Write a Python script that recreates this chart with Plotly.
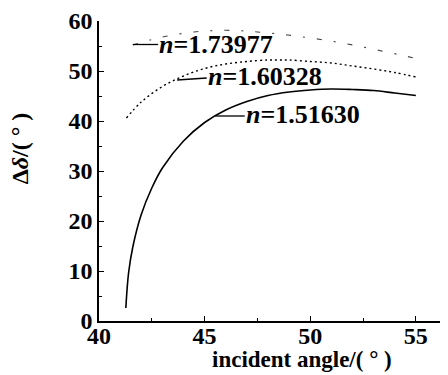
import plotly.graph_objects as go

# Data
x_1516 = [41.27, 41.4, 41.6, 42.0, 42.5, 43.0, 44.0, 45.0, 46.0, 47.0, 48.0, 49.0, 50.0, 51.0, 52.0, 53.0, 54.0, 55.0]
y_1516 = [2.6, 9.6, 14.8, 21.3, 26.6, 30.6, 36.0, 39.7, 42.2, 43.9, 45.1, 45.8, 46.2, 46.4, 46.3, 46.1, 45.6, 45.1]

x_1603 = [41.3, 42.0, 43.0, 44.0, 45.0, 46.0, 47.0, 48.0, 48.5, 49.0, 50.0, 51.0, 52.0, 53.0, 54.0, 55.0]
y_1603 = [40.6, 43.8, 46.9, 49.0, 50.5, 51.4, 51.9, 52.2, 52.2, 52.2, 51.9, 51.6, 51.0, 50.4, 49.7, 48.8]

x_1740 = [41.6, 42.5, 43.5, 44.5, 45.5, 46.5, 47.5, 48.5, 49.5, 50.5, 51.5, 52.5, 53.5, 54.5, 55.0]
y_1740 = [55.2, 56.3, 57.2, 57.8, 58.1, 58.1, 57.8, 57.4, 56.9, 56.3, 55.6, 54.8, 53.9, 53.0, 52.5]

labels = ["<i>n</i>=1.73977", "<i>n</i>=1.60328", "<i>n</i>=1.51630"]
label_x = [42.75, 45.05, 46.85]
label_y = [55.3, 48.9, 41.4]
leader_x0 = [41.6, 43.7, 45.5]
leader_y0 = [55.3, 48.2, 41.0]
leader_x1 = [42.8, 45.1, 46.9]
leader_y1 = [55.3, 48.6, 41.0]

x_ticks = [40, 45, 50, 55]
y_ticks = [0, 10, 20, 30, 40, 50, 60]

x_title = "incident angle/( ° )"
y_title = "Δ<i>δ</i>/( ° )"

FONT = "Liberation Serif"

fig = go.Figure()
fig.add_trace(go.Scatter(x=x_1516, y=y_1516, mode="lines", line=dict(color="black", width=1.6, shape="spline"), showlegend=False))
fig.add_trace(go.Scatter(x=x_1603, y=y_1603, mode="lines", line=dict(color="black", width=1.4, dash="2px,3px", shape="spline"), showlegend=False))
fig.add_trace(go.Scatter(x=x_1740, y=y_1740, mode="lines", line=dict(color="#444", width=1.1, dash="5px,12px,2px,12px", shape="spline"), showlegend=False))

for i in range(len(labels)):
    fig.add_trace(go.Scatter(x=[leader_x0[i], leader_x1[i]], y=[leader_y0[i], leader_y1[i]], mode="lines",
                             line=dict(color="black", width=1.3), showlegend=False))
    fig.add_annotation(x=label_x[i], y=label_y[i], text=labels[i], showarrow=False, xanchor="left", yanchor="middle",
                       font=dict(family=FONT, size=26, color="black", weight="bold"))

axis_common = dict(showgrid=False, zeroline=False, showline=True, linecolor="black", linewidth=1.5,
                   ticks="inside", ticklen=5, tickwidth=1.2, tickcolor="black", automargin=False,
                   ticklabeloverflow="allow",
                   tickfont=dict(family=FONT, size=24, color="black", weight="bold"))

fig.update_xaxes(range=[40, 56.9], tickvals=x_ticks, ticktext=[str(v) for v in x_ticks],
                 minor=dict(dtick=2.5, tick0=40, ticks="inside", ticklen=3, tickcolor="black"),
                 ticklabelstandoff=-8, **axis_common)
fig.update_yaxes(range=[0, 60], tickvals=y_ticks, ticktext=[str(v) for v in y_ticks],
                 minor=dict(dtick=5, tick0=0, ticks="inside", ticklen=3, tickcolor="black"),
                 **axis_common)

fig.add_annotation(xref="paper", yref="paper", x=0.57, y=-0.13, text=x_title, showarrow=False,
                   xanchor="center", yanchor="middle", font=dict(family=FONT, size=23, color="black", weight="bold"))
fig.add_annotation(xref="paper", yref="paper", x=-0.222, y=0.575, text=y_title, showarrow=False, textangle=-90,
                   xanchor="center", yanchor="middle", font=dict(family=FONT, size=24, color="black", weight="bold"))

fig.update_layout(width=448, height=375, margin=dict(l=91, r=0, t=13, b=62),
                  plot_bgcolor="white", paper_bgcolor="white", font=dict(family=FONT, color="black"))

fig.write_html("out.html")
